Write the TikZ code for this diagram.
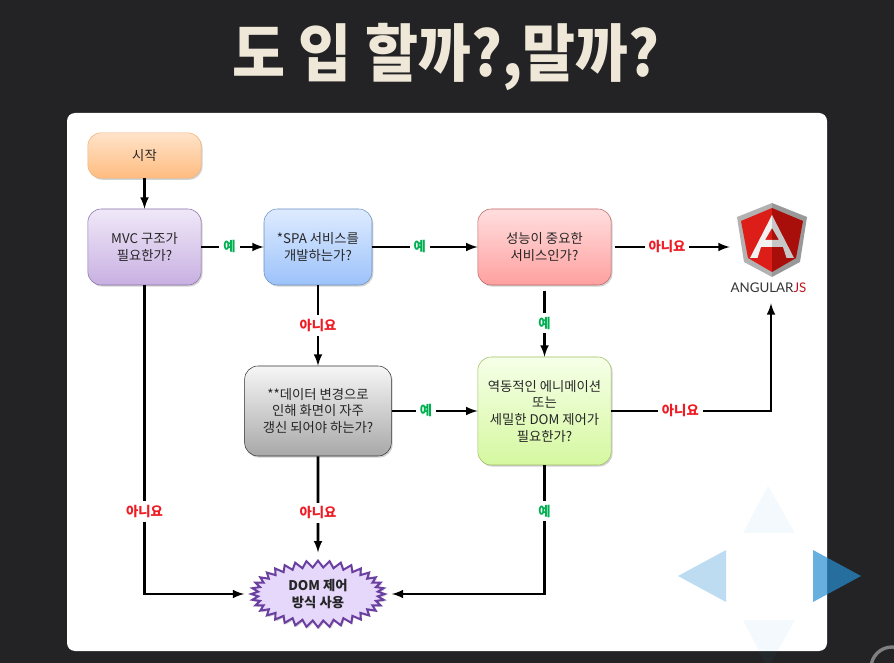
\documentclass[tikz,border=0pt]{standalone}
\usepackage{fontspec}
\setmainfont{Noto Sans CJK KR}
\newfontfamily\logofont{Lato}
\usetikzlibrary{positioning, calc, shapes.symbols, shadows}
\definecolor{slide}{HTML}{232325}
\definecolor{titletext}{HTML}{EFE8D8}
\definecolor{yesgreen}{HTML}{00B050}
\definecolor{nored}{HTML}{EE1C25}
\definecolor{navblue}{RGB}{39,142,210}
\definecolor{logoredA}{HTML}{DD1E18}
\definecolor{logoredB}{HTML}{A80F0A}
\definecolor{domfill}{HTML}{E6D8FA}
\definecolor{domline}{HTML}{6A3FA0}
\definecolor{startA}{HTML}{FFE3C9}
\definecolor{startB}{HTML}{FFBC80}
\definecolor{startC}{HTML}{F2B27A}
\definecolor{mvcA}{HTML}{F0E8F8}
\definecolor{mvcB}{HTML}{C8B0E2}
\definecolor{mvcC}{HTML}{8A6FA8}
\definecolor{spaA}{HTML}{DEEBFF}
\definecolor{spaB}{HTML}{9CC2FA}
\definecolor{spaC}{HTML}{6A8FC0}
\definecolor{perfA}{HTML}{FFDEDE}
\definecolor{perfB}{HTML}{FFA0A0}
\definecolor{perfC}{HTML}{BD6464}
\definecolor{dataA}{HTML}{F6F6F6}
\definecolor{dataB}{HTML}{A8A8A8}
\definecolor{dataC}{HTML}{333333}
\definecolor{animA}{HTML}{F6FFE8}
\definecolor{animB}{HTML}{D5F8A0}
\definecolor{animC}{HTML}{9DBB62}

\begin{document}
\begin{tikzpicture}[x=0.75pt,y=-0.75pt,
		flowbox/.style n args={3}{draw=#3,top color=#1,bottom color=#2,rounded corners=10pt,
			align=center,font=\fontsize{10}{12.5}\selectfont,text=black!85,
			drop shadow={shadow xshift=1pt,shadow yshift=-1.2pt,opacity=.35}},
		flowline/.style={-latex,line width=1.9pt,black},
		yeslabel/.style={fill=white,text=yesgreen,font=\fontsize{10}{10}\selectfont\bfseries,inner sep=3pt},
		nolabel/.style={fill=white,text=nored,font=\fontsize{10}{10}\selectfont\bfseries,inner sep=3pt}]
	\useasboundingbox (0,0) rectangle (894,663);
	\fill[slide] (0,0) rectangle (894,663);
	\fill[white,rounded corners=6pt] (67,113) rectangle (827,651);
	\node[text=titletext,font=\fontsize{47}{47}\selectfont\bfseries,xscale=.92,inner sep=0pt] (title) at (446,57) {도 입 할까?,말까?};

	% boxes
	\node[flowbox={startA}{startB}{startC},minimum width=85pt,minimum height=34pt] (start) at (144.5,155.5) {시작};
	\node[flowbox={mvcA}{mvcB}{mvcC},minimum width=85pt,minimum height=57pt] (mvc) at (144.5,247) {MVC 구조가\\필요한가?};
	\node[flowbox={spaA}{spaB}{spaC},minimum width=81pt,minimum height=57pt] (spa) at (318,247) {*SPA 서비스를\\개발하는가?};
	\node[flowbox={perfA}{perfB}{perfC},minimum width=100pt,minimum height=57pt] (perf) at (544.5,247) {성능이 중요한\\서비스인가?};
	\node[flowbox={dataA}{dataB}{dataC},minimum width=110pt,minimum height=67.5pt] (data) at (318,411) {**데이터 변경으로\\인해 화면이 자주\\갱신 되어야 하는가?};
	\node[flowbox={animA}{animB}{animC},minimum width=100pt,minimum height=81pt] (anim) at (544.5,411) {역동적인 에니메이션\\또는\\세밀한 DOM 제어가\\필요한가?};
	\node[starburst,starburst points=36,starburst point height=5pt,random starburst=0,
		draw=domline,line width=1.5pt,fill=domfill,align=center,text=black!85,
		font=\fontsize{10}{12.5}\selectfont\bfseries,minimum width=100pt,minimum height=50pt,inner sep=0pt,
		drop shadow={shadow xshift=1pt,shadow yshift=-1.2pt,opacity=.35}] (dom) at (318,594) {DOM 제어\\방식 사용};

	% logo
	\node[minimum width=61.5pt,minimum height=75pt,inner sep=0pt] (logo) at (771,253) {};
	\foreach \S/\Grey/\Light/\Red in {-1/black!30/black!5/logoredA,1/black!40/black!22/logoredB}
		{
			\fill[\Grey] (772,203) -- ({772+\S*35},217) -- ({772+\S*28},262) -- (772,277) -- cycle;
			\fill[\Red] (772,208) -- ({772+\S*31},221) -- ({772+\S*24},258) -- (772,272) -- cycle;
			\fill[\Light] (772,215) -- ({772+\S*22},258) -- ({772+\S*14.5},258) -- ({772+\S*11},247) -- (772,247)
				-- (772,240) -- ({772+\S*7},240) -- (772,228) -- cycle;
		}
	\node[font=\fontsize{10}{10}\selectfont\logofont,inner sep=0pt,text=black!80] (logotext) at (768.5,288) {ANGULAR\textcolor{nored!80!black}{JS}};

	% connectors
	\draw[flowline] (start) -- (mvc);
	\draw[flowline] (mvc) -- node[yeslabel,pos=.45] {예} (spa);
	\draw[flowline] (spa) -- node[yeslabel,pos=.45] {예} (perf);
	\draw[flowline,shorten <=2.5pt] (perf.east) -- node[nolabel,pos=.47] {아니요} (perf.east -| logo.west);
	\draw[flowline,shorten <=4pt] (perf) -- node[yeslabel,pos=.53] {예} (anim);
	\draw[flowline] (spa) -- node[nolabel,pos=.5] {아니요} (data);
	\draw[flowline] (data) -- node[yeslabel,pos=.4] {예} (anim);
	\draw[flowline] (anim.east) -| node[nolabel,pos=.216] {아니요} (logo.south);
	\draw[flowline,shorten >=5pt] (data) -- node[nolabel,pos=.55] {아니요} (dom);
	\draw[flowline,shorten >=3pt] (mvc.south) |- node[nolabel,pos=.366] {아니요} (dom.west);
	\draw[flowline,shorten >=3pt] (anim.south) |- node[yeslabel,pos=.178] {예} (dom.east);

	% nav arrows
	\foreach \Alpha/\Ax/\Ay/\Bx/\By/\Cx/\Cy in {.05/768/486/743/533/795/533,.3/678/576/726/550/726/602,.7/861/576/813/550/813/602,.05/768/668/743/620/795/620}
		{
			\fill[navblue,opacity=\Alpha] (\Ax,\Ay) -- (\Bx,\By) -- (\Cx,\Cy) -- cycle;
		}
	\draw[black!50,line width=2.5pt] (892,668) circle (21);
\end{tikzpicture}
\end{document}
